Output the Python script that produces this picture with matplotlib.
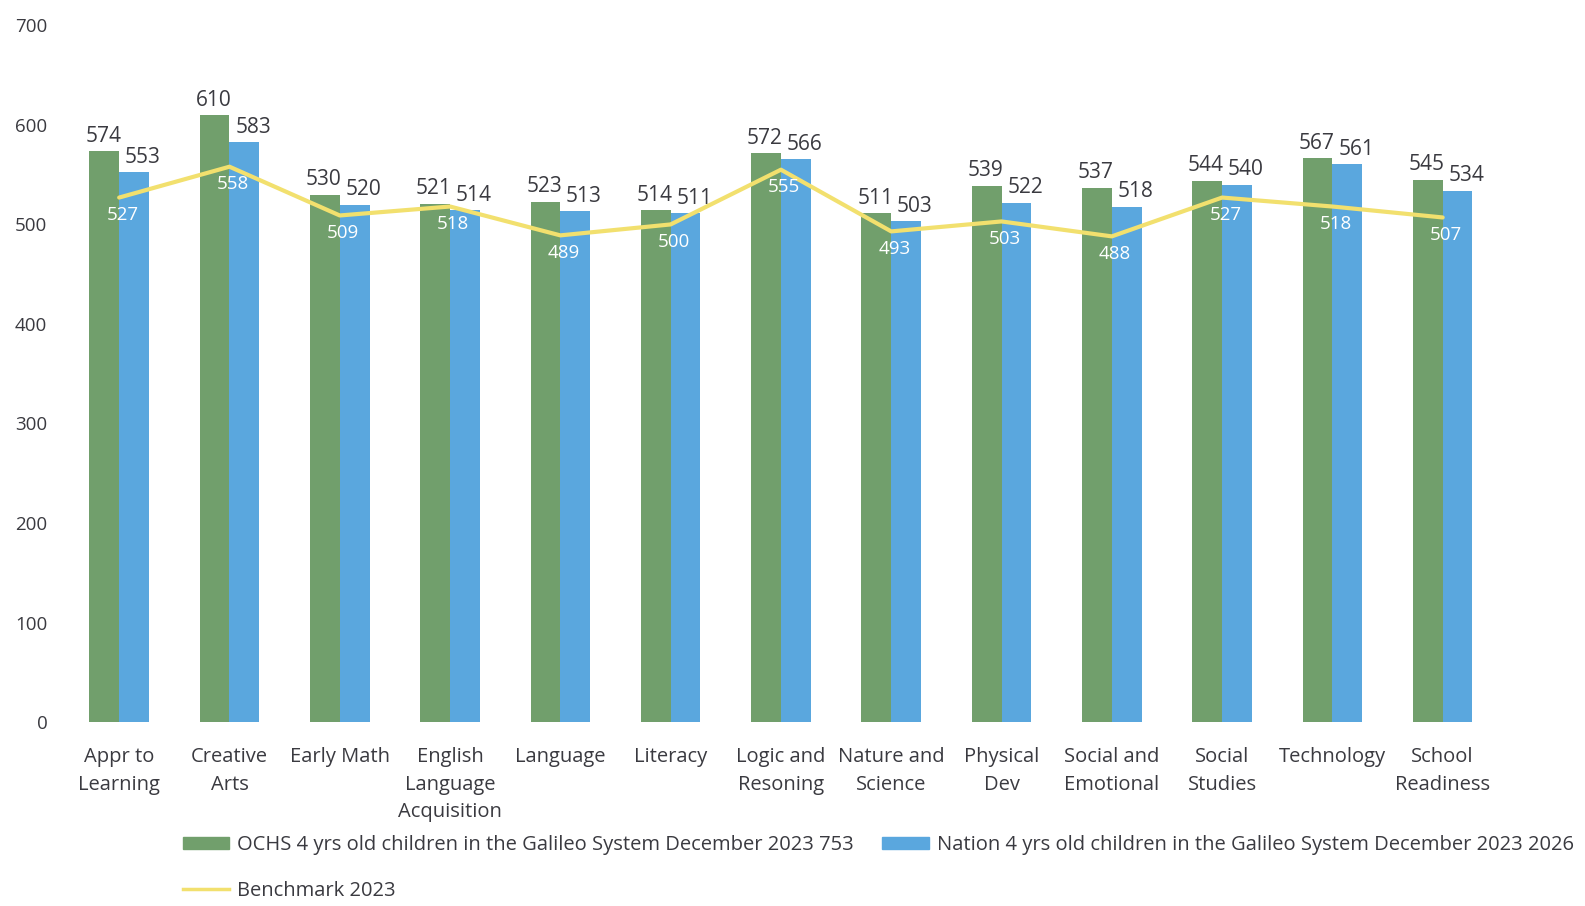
import matplotlib
matplotlib.use("Agg")
import matplotlib.pyplot as plt
import numpy as np
from matplotlib.patches import Patch
from matplotlib.lines import Line2D

plt.rcParams['font.family'] = ['Open Sans', 'DejaVu Sans']

categories = ["Appr to\nLearning", "Creative\nArts", "Early Math", "English\nLanguage\nAcquisition",
              "Language", "Literacy", "Logic and\nResoning", "Nature and\nScience", "Physical\nDev",
              "Social and\nEmotional", "Social\nStudies", "Technology", "School\nReadiness"]
ochs = [574, 610, 530, 521, 523, 514, 572, 511, 539, 537, 544, 567, 545]
nation = [553, 583, 520, 514, 513, 511, 566, 503, 522, 518, 540, 561, 534]
benchmark = [527, 558, 509, 518, 489, 500, 555, 493, 503, 488, 527, 518, 507]
y_ticks = [0, 100, 200, 300, 400, 500, 600, 700]

label_ochs = "OCHS 4 yrs old children in the Galileo System December 2023 753"
label_nation = "Nation 4 yrs old children in the Galileo System December 2023 2026"
label_bench = "Benchmark 2023"

green = "#719f6c"
blue = "#5aa7de"
yellow = "#f2e06e"
txt = "#3a3a40"

fig = plt.figure(figsize=(15.85, 9.06), dpi=100)
ax = fig.add_axes([0.0404, 0.203, 0.9046, 0.769])

x = np.arange(len(categories))
w = 0.27
ax.bar(x - w / 2, ochs, width=w, color=green, zorder=2)
ax.bar(x + w / 2, nation, width=w, color=blue, zorder=2)
ax.plot(x, benchmark, color=yellow, lw=3, zorder=3, solid_capstyle='round')

for xi, v in zip(x, ochs):
    ax.annotate(str(v), (xi - w / 2 - 0.01, v), xytext=(0, 3), textcoords='offset points',
                ha='center', va='bottom', fontsize=15, color=txt, zorder=5)
for xi, v in zip(x, nation):
    ax.annotate(str(v), (xi + w / 2 + 0.08, v), xytext=(0, 3), textcoords='offset points',
                ha='center', va='bottom', fontsize=15, color=txt, zorder=5)
for xi, v in zip(x, benchmark):
    ax.annotate(str(v), (xi + 0.03, v), xytext=(0, -6), textcoords='offset points',
                ha='center', va='top', fontsize=13.5, color='white', zorder=5)

ax.set_xlim(-0.5, len(categories) - 0.5)
ax.set_ylim(0, 700)
ax.set_yticks(y_ticks)
ax.set_yticklabels([str(t) for t in y_ticks], fontsize=13.5, color=txt)
ax.set_xticks(x)
ax.set_xticklabels(categories, fontsize=14.5, color=txt, linespacing=1.5)
ax.tick_params(axis='both', length=0)
ax.tick_params(axis='x', pad=18)
ax.tick_params(axis='y', pad=12)
for s in ax.spines.values():
    s.set_visible(False)

handles = [Patch(color=green), Line2D([0], [0], color=yellow, lw=2.5), Patch(color=blue)]
labels = [label_ochs, label_bench, label_nation]
fig.legend(handles, labels, ncol=2, loc='upper left', bbox_to_anchor=(0.104, 0.098),
           frameon=False, fontsize=14.5, labelspacing=1.25, columnspacing=1.4,
           handlelength=2.3, handleheight=0.55, handletextpad=0.4, labelcolor=txt)

fig.savefig("out.png", dpi=100, facecolor='white')
